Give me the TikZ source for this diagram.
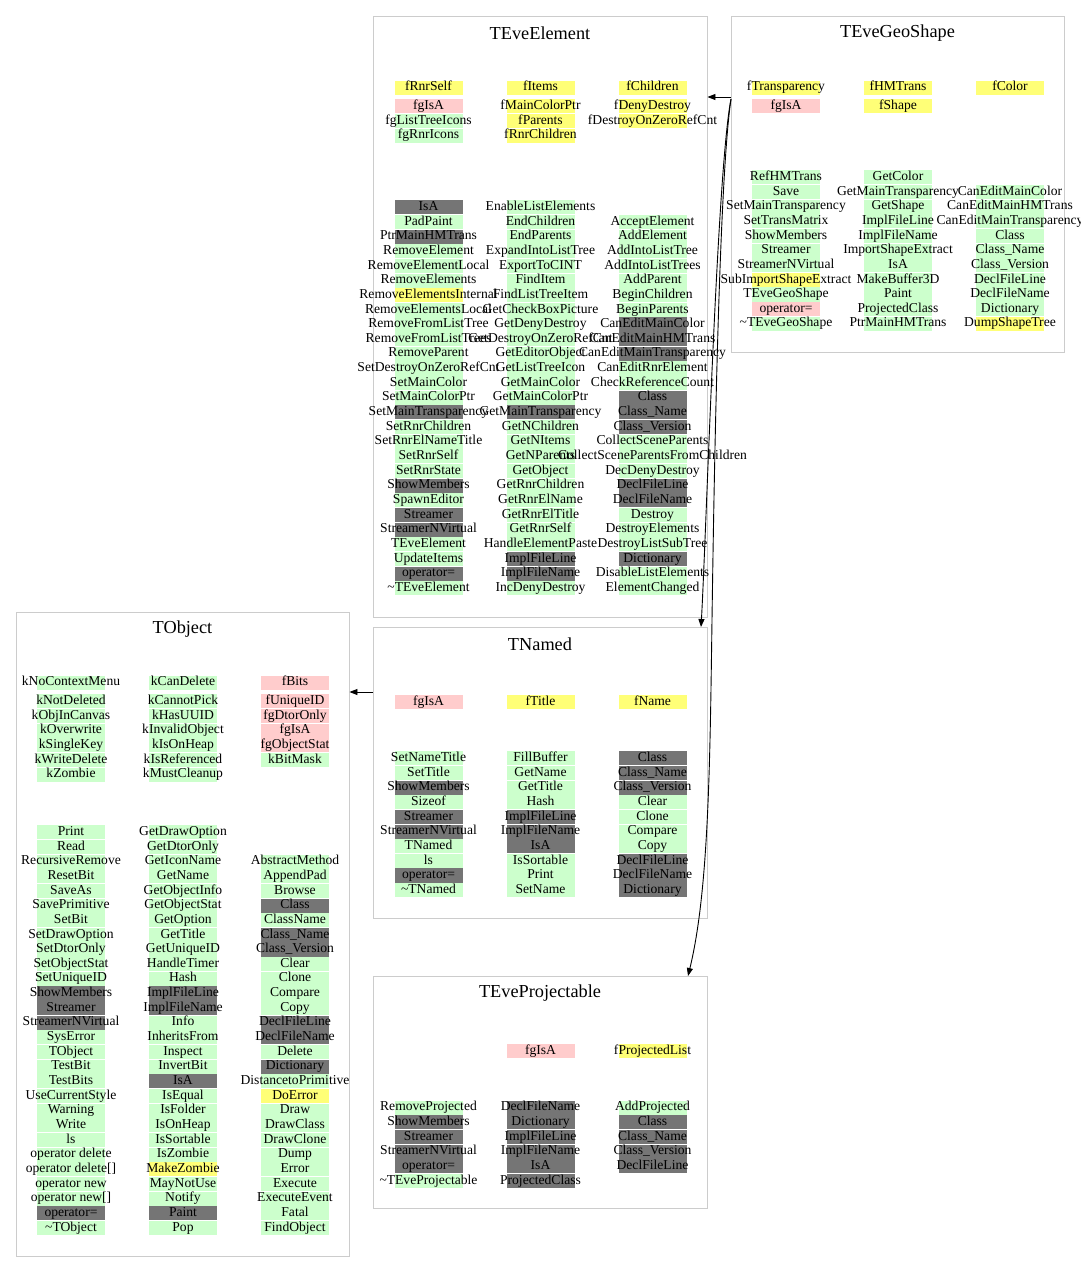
\documentclass[tikz,border=0pt]{standalone}
\usepackage{fontspec}
\setmainfont{Liberation Serif}
\usetikzlibrary{arrows.meta}
\definecolor{cg}{RGB}{204,255,204}
\definecolor{cd}{RGB}{117,117,117}
\definecolor{cy}{RGB}{255,255,119}
\definecolor{cp}{RGB}{255,204,204}
\definecolor{bd}{RGB}{204,204,204}
\tikzset{
  cellbox/.style={draw=none, fill=#1, minimum width=68pt, minimum height=14.1pt, inner sep=0pt, outer sep=0pt},
  celltxt/.style={inner sep=0pt, font=\fontsize{13.6}{14}\selectfont, text height=9.3pt, text depth=3pt},
  classbox/.style={draw=bd, line width=0.9pt, inner sep=0pt},
  classtitle/.style={font=\fontsize{18.3}{20}\selectfont, inner sep=0pt},
  inh/.style={draw=black, line width=0.9pt, -{Triangle[length=8pt,width=6pt]}}
}
\newcommand\cellcol[4]{%
  \foreach \kk/\txt [count=\i] in {#4}{%
    \node[cellbox=c\kk] (#1-\i) at (#2,{#3+(\i-0.5)*14.65}) {};
    \node[celltxt] (#1-t\i) at (#1-\i.center) {\txt};
  }}
\begin{document}
\begin{tikzpicture}[x=1pt,y=-1pt]
\fill[white] (0,0) rectangle (1080,1283);
\useasboundingbox (0,0) rectangle (1080,1283);

% ---------------- class boxes ----------------
\node[classbox, minimum width=334pt, minimum height=601pt] (TEveElement) at (540,316.5) {};
\node[classbox, minimum width=333pt, minimum height=336pt] (TEveGeoShape) at (897.5,184) {};
\node[classbox, minimum width=333pt, minimum height=644pt] (TObject) at (182.5,934) {};
\node[classbox, minimum width=334pt, minimum height=291pt] (TNamed) at (540,772.5) {};
\node[classbox, minimum width=334pt, minimum height=232pt] (TEveProjectable) at (540,1092) {};

\node[classtitle] (TEveElement-title) at (540,33) {TEveElement};
\node[classtitle] (TEveGeoShape-title) at (897.5,33) {TEveGeoShape};
\node[classtitle] (TObject-title) at (182.5,629) {TObject};
\node[classtitle] (TNamed-title) at (540,644) {TNamed};
\node[classtitle] (TEveProjectable-title) at (540,993) {TEveProjectable};

% ---------------- TEveElement ----------------
\cellcol{ee-a1}{428.5}{80.3}{y/fRnrSelf}
\cellcol{ee-a2}{540.5}{80.3}{y/fItems}
\cellcol{ee-a3}{652.5}{80.3}{y/fChildren}
\cellcol{ee-b1}{428.5}{99}{p/fgIsA, g/fgListTreeIcons, g/fgRnrIcons}
\cellcol{ee-b2}{540.5}{99}{y/fMainColorPtr, y/fParents, y/fRnrChildren}
\cellcol{ee-b3}{652.5}{99}{y/fDenyDestroy, y/fDestroyOnZeroRefCnt}
\cellcol{ee-m1}{428.5}{200}{d/IsA, g/PadPaint, d/PtrMainHMTrans, g/RemoveElement, g/RemoveElementLocal, g/RemoveElements, y/RemoveElementsInternal, g/RemoveElementsLocal, g/RemoveFromListTree, g/RemoveFromListTrees, g/RemoveParent, g/SetDestroyOnZeroRefCnt, g/SetMainColor, g/SetMainColorPtr, d/SetMainTransparency, g/SetRnrChildren, g/SetRnrElNameTitle, g/SetRnrSelf, g/SetRnrState, d/ShowMembers, g/SpawnEditor, d/Streamer, d/StreamerNVirtual, g/TEveElement, g/UpdateItems, d/operator=, g/\textasciitilde TEveElement}
\cellcol{ee-m2}{540.5}{200}{g/EnableListElements, g/EndChildren, g/EndParents, g/ExpandIntoListTree, g/ExportToCINT, g/FindItem, g/FindListTreeItem, g/GetCheckBoxPicture, g/GetDenyDestroy, g/GetDestroyOnZeroRefCnt, g/GetEditorObject, g/GetListTreeIcon, g/GetMainColor, g/GetMainColorPtr, d/GetMainTransparency, g/GetNChildren, g/GetNItems, g/GetNParents, g/GetObject, g/GetRnrChildren, g/GetRnrElName, g/GetRnrElTitle, g/GetRnrSelf, g/HandleElementPaste, d/ImplFileLine, d/ImplFileName, g/IncDenyDestroy}
\cellcol{ee-m3}{652.5}{214.65}{g/AcceptElement, g/AddElement, g/AddIntoListTree, g/AddIntoListTrees, g/AddParent, g/BeginChildren, g/BeginParents, d/CanEditMainColor, d/CanEditMainHMTrans, d/CanEditMainTransparency, g/CanEditRnrElement, g/CheckReferenceCount, d/Class, d/Class\_Name, d/Class\_Version, g/CollectSceneParents, g/CollectSceneParentsFromChildren, g/DecDenyDestroy, d/DeclFileLine, d/DeclFileName, g/Destroy, g/DestroyElements, g/DestroyListSubTree, d/Dictionary, g/DisableListElements, g/ElementChanged}

% ---------------- TEveGeoShape ----------------
\cellcol{gs-a1}{786}{80.3}{y/fTransparency}
\cellcol{gs-a2}{898}{80.3}{y/fHMTrans}
\cellcol{gs-a3}{1010}{80.3}{y/fColor}
\cellcol{gs-b1}{786}{99}{p/fgIsA}
\cellcol{gs-b2}{898}{99}{y/fShape}
\cellcol{gs-m1}{786}{170}{g/RefHMTrans, g/Save, g/SetMainTransparency, g/SetTransMatrix, g/ShowMembers, g/Streamer, g/StreamerNVirtual, y/SubImportShapeExtract, g/TEveGeoShape, p/operator=, g/\textasciitilde TEveGeoShape}
\cellcol{gs-m2}{898}{170}{g/GetColor, g/GetMainTransparency, g/GetShape, g/ImplFileLine, g/ImplFileName, g/ImportShapeExtract, g/IsA, g/MakeBuffer3D, g/Paint, g/ProjectedClass, g/PtrMainHMTrans}
\cellcol{gs-m3}{1010}{184.65}{g/CanEditMainColor, g/CanEditMainHMTrans, g/CanEditMainTransparency, g/Class, g/Class\_Name, g/Class\_Version, g/DeclFileLine, g/DeclFileName, g/Dictionary, y/DumpShapeTree}

% ---------------- TObject ----------------
\cellcol{to-a1}{71}{675.3}{g/kNoContextMenu}
\cellcol{to-a2}{183}{675.3}{g/kCanDelete}
\cellcol{to-a3}{295}{675.3}{p/fBits}
\cellcol{to-b1}{71}{694}{g/kNotDeleted, g/kObjInCanvas, g/kOverwrite, g/kSingleKey, g/kWriteDelete, g/kZombie}
\cellcol{to-b2}{183}{694}{g/kCannotPick, g/kHasUUID, g/kInvalidObject, g/kIsOnHeap, g/kIsReferenced, g/kMustCleanup}
\cellcol{to-b3}{295}{694}{p/fUniqueID, p/fgDtorOnly, p/fgIsA, p/fgObjectStat, g/kBitMask}
\cellcol{to-m1}{71}{825}{g/Print, g/Read, g/RecursiveRemove, g/ResetBit, g/SaveAs, g/SavePrimitive, g/SetBit, g/SetDrawOption, g/SetDtorOnly, g/SetObjectStat, g/SetUniqueID, d/ShowMembers, d/Streamer, d/StreamerNVirtual, g/SysError, g/TObject, g/TestBit, g/TestBits, g/UseCurrentStyle, g/Warning, g/Write, g/ls, g/operator delete, g/operator delete[], g/operator new, g/operator new[], d/operator=, g/\textasciitilde TObject}
\cellcol{to-m2}{183}{825}{g/GetDrawOption, g/GetDtorOnly, g/GetIconName, g/GetName, g/GetObjectInfo, g/GetObjectStat, g/GetOption, g/GetTitle, g/GetUniqueID, g/HandleTimer, g/Hash, d/ImplFileLine, d/ImplFileName, g/Info, g/InheritsFrom, g/Inspect, g/InvertBit, d/IsA, g/IsEqual, g/IsFolder, g/IsOnHeap, g/IsSortable, g/IsZombie, y/MakeZombie, g/MayNotUse, g/Notify, d/Paint, g/Pop}
\cellcol{to-m3}{295}{854.3}{g/AbstractMethod, g/AppendPad, g/Browse, d/Class, g/ClassName, d/Class\_Name, d/Class\_Version, g/Clear, g/Clone, g/Compare, g/Copy, d/DeclFileLine, d/DeclFileName, g/Delete, d/Dictionary, g/DistancetoPrimitive, y/DoError, g/Draw, g/DrawClass, g/DrawClone, g/Dump, g/Error, g/Execute, g/ExecuteEvent, g/Fatal, g/FindObject}

% ---------------- TNamed ----------------
\cellcol{tn-a1}{428.5}{695}{p/fgIsA}
\cellcol{tn-a2}{540.5}{695}{y/fTitle}
\cellcol{tn-a3}{652.5}{695}{y/fName}
\cellcol{tn-m1}{428.5}{751}{g/SetNameTitle, g/SetTitle, d/ShowMembers, g/Sizeof, d/Streamer, d/StreamerNVirtual, g/TNamed, g/ls, d/operator=, g/\textasciitilde TNamed}
\cellcol{tn-m2}{540.5}{751}{g/FillBuffer, g/GetName, g/GetTitle, g/Hash, d/ImplFileLine, d/ImplFileName, d/IsA, g/IsSortable, g/Print, g/SetName}
\cellcol{tn-m3}{652.5}{751}{d/Class, d/Class\_Name, d/Class\_Version, g/Clear, g/Clone, g/Compare, g/Copy, d/DeclFileLine, d/DeclFileName, d/Dictionary}

% ---------------- TEveProjectable ----------------
\cellcol{pr-a2}{540.5}{1044}{p/fgIsA}
\cellcol{pr-a3}{652.5}{1044}{y/fProjectedList}
\cellcol{pr-m1}{428.5}{1100.3}{g/RemoveProjected, d/ShowMembers, d/Streamer, d/StreamerNVirtual, d/operator=, g/\textasciitilde TEveProjectable}
\cellcol{pr-m2}{540.5}{1100.3}{d/DeclFileName, d/Dictionary, d/ImplFileLine, d/ImplFileName, d/IsA, d/ProjectedClass}
\cellcol{pr-m3}{652.5}{1100.3}{g/AddProjected, d/Class, d/Class\_Name, d/Class\_Version, d/DeclFileLine}

% ---------------- inheritance arrows ----------------
\coordinate (geoA) at (731,97);
\coordinate (geoB) at (731,99);
\coordinate (tnIn) at (701,627);
\coordinate (prIn) at (688,976);
\coordinate (tnW) at (373,692);
\draw[inh] (geoA) -- (TEveElement.east |- geoA);
\draw[inh] (geoB) .. controls (717,170) and (706,540) .. (tnIn);
\draw[inh] (geoB) .. controls (719,180) and (714,480) .. (712,620) .. controls (710,760) and (709,890) .. (prIn);
\draw[inh] (tnW) -- (TObject.east |- tnW);
\end{tikzpicture}
\end{document}
